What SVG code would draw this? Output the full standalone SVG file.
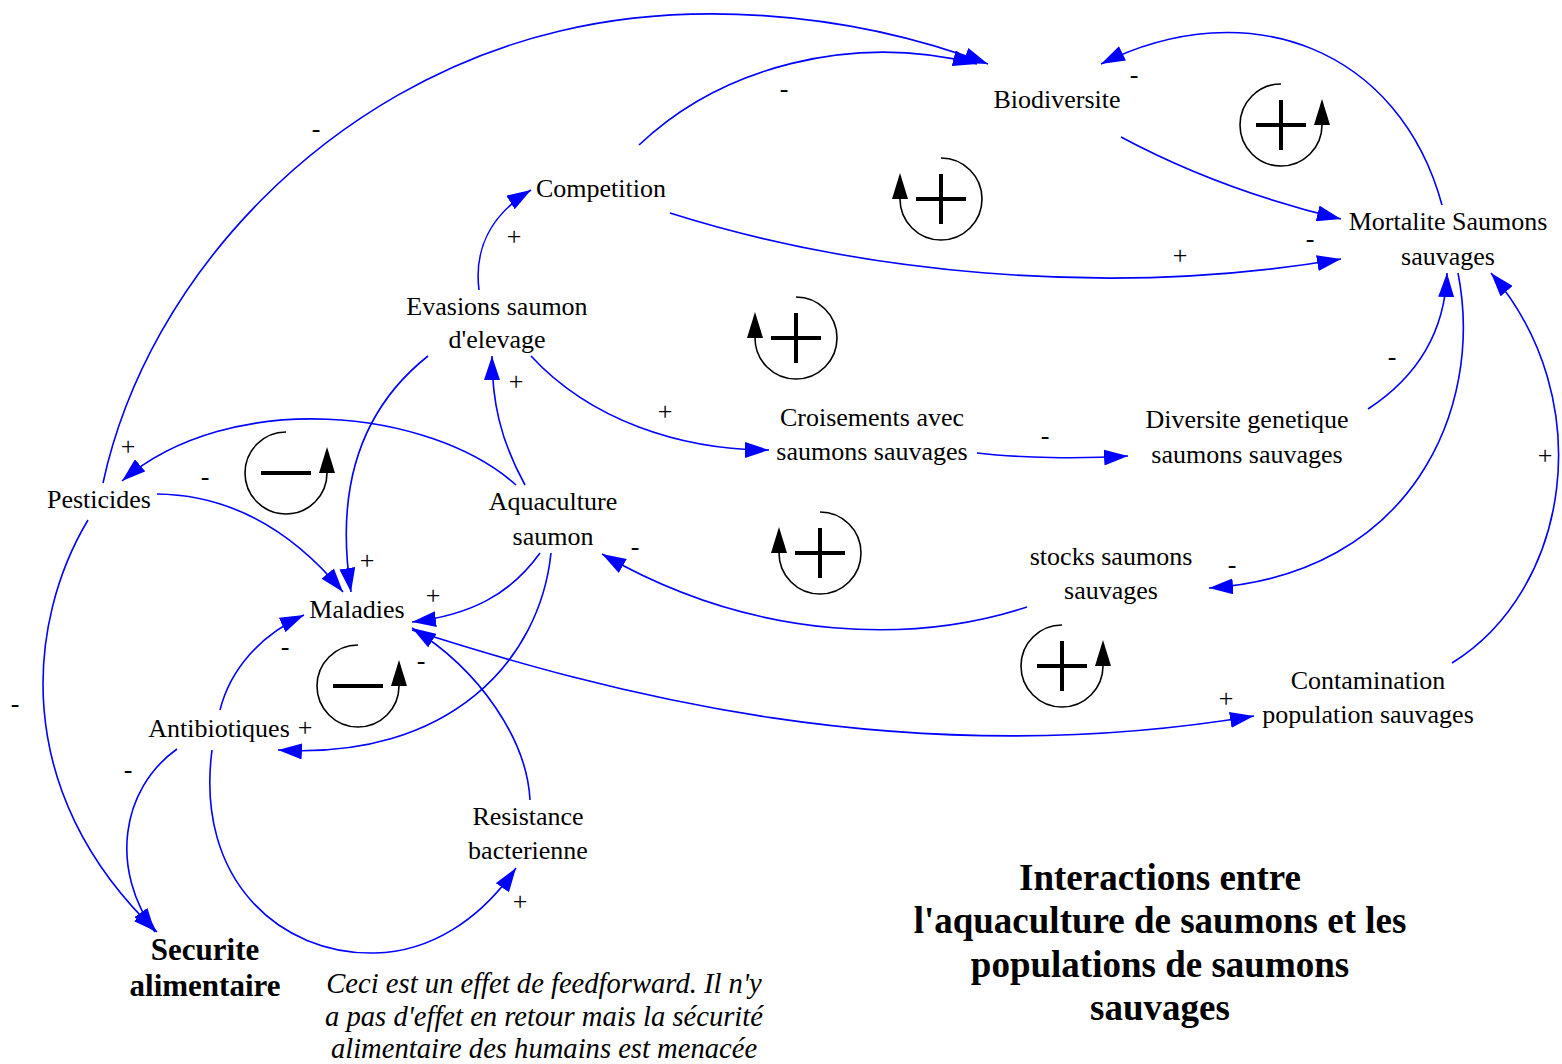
<svg xmlns="http://www.w3.org/2000/svg" width="1562" height="1064" viewBox="0 0 1562 1064">
<style>
text{font-family:"Liberation Serif","Times New Roman",serif;fill:#000;text-anchor:middle}
.n{font-size:26px}
.s{font-size:26px}
.b{font-size:31px;font-weight:bold}
.t{font-size:37px;font-weight:bold}
.i{font-size:28.6px;font-style:italic}
.c{fill:none;stroke:#0000FF;stroke-width:1.6;marker-end:url(#ah)}
.la{fill:none;stroke:#000;stroke-width:1.6}
.sg{stroke:#000;stroke-width:4}
</style>
<defs>
<marker id="ah" viewBox="0 0 24 16" markerUnits="userSpaceOnUse" markerWidth="24" markerHeight="16" refX="24" refY="8" orient="auto">
<path d="M0,0 L24,8 L0,16 Z" fill="#0000FF"/>
</marker>
<g id="loopA">
<path class="la" d="M0,-41 A41,41 0 1 1 -41,0"/>
<polygon points="-49,0 -33,0 -41,-26" fill="#000"/>
</g>
<g id="loopB">
<path class="la" d="M0,-41 A41,41 0 1 0 41,0"/>
<polygon points="33,0 49,0 41,-26" fill="#000"/>
</g>
<g id="plus"><line class="sg" x1="-25" y1="0" x2="25" y2="0"/><line class="sg" x1="0" y1="-25" x2="0" y2="25"/></g>
<g id="minus"><line class="sg" x1="-25" y1="0" x2="25" y2="0"/></g>
</defs>
<rect width="1562" height="1064" fill="#fff"/>

<g id="connectors">
<path class="c" d="M103,483 C148,275 330,85 560,31 C680,2 840,8 988,64"/>
<path class="c" d="M639,145 C720,68 850,32 977,64"/>
<path class="c" d="M1442,205 C1400,50 1250,-10 1101,64"/>
<path class="c" d="M1121,137 Q1220,190 1341,219"/>
<path class="c" d="M670,213 C850,270 1100,300 1341,259"/>
<path class="c" d="M479,290 C474,250 490,215 531,190"/>
<path class="c" d="M525,485 C500,440 492,400 492,356"/>
<path class="c" d="M531,356 C590,420 680,450 769,450"/>
<path class="c" d="M977,453 C1020,458 1080,459 1128,456"/>
<path class="c" d="M1368,409 C1420,375 1445,330 1447,273"/>
<path class="c" d="M1458,273 C1485,410 1410,575 1209,588"/>
<path class="c" d="M1452,663 C1570,590 1600,400 1491,273"/>
<path class="c" d="M1027,607 C920,642 760,645 602,554"/>
<path class="c" d="M516,485 C430,408 230,388 122,481"/>
<path class="c" d="M157,494 C240,495 300,540 343,592"/>
<path class="c" d="M428,356 C360,410 335,490 351,592"/>
<path class="c" d="M540,553 C510,595 470,615 412,622"/>
<path class="c" d="M551,553 C540,660 450,760 278,750"/>
<path class="c" d="M220,710 C230,670 260,635 304,615"/>
<path class="c" d="M530,800 C527,740 480,670 412,628"/>
<path class="c" d="M412,630 C600,690 900,775 1254,716"/>
<path class="c" d="M88,520 C28,620 8,790 157,932"/>
<path class="c" d="M177,749 C120,790 110,870 155,932"/>
<path class="c" d="M212,750 C195,880 280,955 375,953 C430,952 480,920 516,868"/>
</g>

<g id="polarities">
<text class="s" x="316" y="137">-</text>
<text class="s" x="784" y="97">-</text>
<text class="s" x="1134" y="83">-</text>
<text class="s" x="514" y="245">+</text>
<text class="s" x="1180" y="264">+</text>
<text class="s" x="1310" y="247">-</text>
<text class="s" x="516" y="390">+</text>
<text class="s" x="665" y="420">+</text>
<text class="s" x="1045" y="444">-</text>
<text class="s" x="1392" y="365">-</text>
<text class="s" x="1545" y="464">+</text>
<text class="s" x="128" y="455">+</text>
<text class="s" x="205" y="485">-</text>
<text class="s" x="635" y="555">-</text>
<text class="s" x="1232" y="573">-</text>
<text class="s" x="367" y="569">+</text>
<text class="s" x="433" y="604">+</text>
<text class="s" x="285" y="655">-</text>
<text class="s" x="421" y="669">-</text>
<text class="s" x="15" y="712">-</text>
<text class="s" x="305" y="736">+</text>
<text class="s" x="128" y="778">-</text>
<text class="s" x="1226" y="707">+</text>
<text class="s" x="520" y="910">+</text>
</g>

<g id="loops">
<g id="loop1" transform="translate(941,199)"><use href="#loopA"/><use href="#plus"/></g>
<g id="loop2" transform="translate(796,338)"><use href="#loopA"/><use href="#plus"/></g>
<g id="loop3" transform="translate(1281,125)"><use href="#loopB"/><use href="#plus"/></g>
<g id="loop4" transform="translate(286,473)"><use href="#loopB"/><use href="#minus"/></g>
<g id="loop5" transform="translate(358,686)"><use href="#loopB"/><use href="#minus"/></g>
<g id="loop6" transform="translate(820,553)"><use href="#loopA"/><use href="#plus"/></g>
<g id="loop7" transform="translate(1062,666)"><use href="#loopB"/><use href="#plus"/></g>
</g>

<g id="node-biodiversite"><text class="n" x="1057" y="108">Biodiversite</text></g>
<g id="node-competition"><text class="n" x="601" y="197">Competition</text></g>
<g id="node-mortalite"><text class="n" x="1448" y="230">Mortalite Saumons</text><text class="n" x="1448" y="265">sauvages</text></g>
<g id="node-evasions"><text class="n" x="497" y="315">Evasions saumon</text><text class="n" x="497" y="348">d'elevage</text></g>
<g id="node-croisements"><text class="n" x="872" y="426">Croisements avec</text><text class="n" x="872" y="460">saumons sauvages</text></g>
<g id="node-diversite"><text class="n" x="1247" y="428">Diversite genetique</text><text class="n" x="1247" y="463">saumons sauvages</text></g>
<g id="node-pesticides"><text class="n" x="99" y="508">Pesticides</text></g>
<g id="node-aquaculture"><text class="n" x="553" y="510">Aquaculture</text><text class="n" x="553" y="545">saumon</text></g>
<g id="node-stocks"><text class="n" x="1111" y="565">stocks saumons</text><text class="n" x="1111" y="599">sauvages</text></g>
<g id="node-maladies"><text class="n" x="357" y="618">Maladies</text></g>
<g id="node-contamination"><text class="n" x="1368" y="689">Contamination</text><text class="n" x="1368" y="723">population sauvages</text></g>
<g id="node-antibiotiques"><text class="n" x="219" y="737">Antibiotiques</text></g>
<g id="node-resistance"><text class="n" x="528" y="825">Resistance</text><text class="n" x="528" y="859">bacterienne</text></g>
<g id="node-securite"><text class="b" x="205" y="960">Securite</text><text class="b" x="205" y="996">alimentaire</text></g>
<g id="note"><text class="i" x="544" y="993">Ceci est un effet de feedforward. Il n'y</text><text class="i" x="544" y="1026">a pas d'effet en retour mais la sécurité</text><text class="i" x="544" y="1058">alimentaire des humains est menacée</text></g>
<g id="title"><text class="t" x="1160" y="890">Interactions entre</text><text class="t" x="1160" y="933">l'aquaculture de saumons et les</text><text class="t" x="1160" y="977">populations de saumons</text><text class="t" x="1160" y="1020">sauvages</text></g>
</svg>
